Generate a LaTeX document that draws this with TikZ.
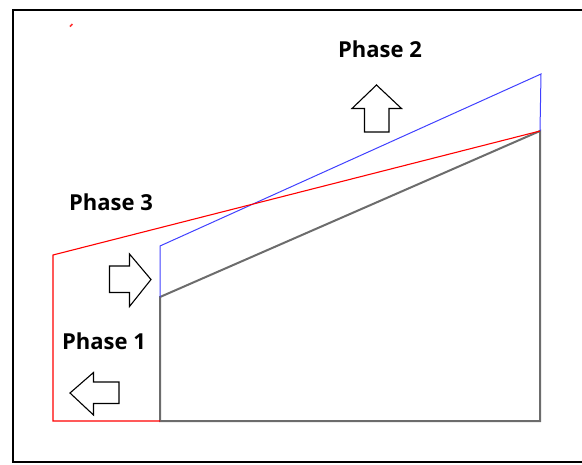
\documentclass[tikz,border=0pt]{standalone}
\usepackage{fontspec}
\setmainfont{Open Sans}
\begin{document}
\begin{tikzpicture}[x=1pt,y=-1pt,
  frame/.style={draw=black,line width=2.2pt},
  wall/.style={draw=gray!85!black,line width=2pt},
  redline/.style={draw=red,line width=1.1pt},
  blueline/.style={draw=blue!75!white,line width=1pt},
  bigarrow/.style={draw=black,line width=1.1pt,fill=white,line join=miter},
  label/.style={font=\bfseries\fontsize{22}{26}\selectfont,inner sep=0pt,anchor=center}]
\useasboundingbox (0,0) rectangle (582,464);
% outer frame: top, left and bottom edges only
\draw[frame] (582,10) -- (13,10) -- (13,462) -- (582,462);
% original profile (grey)
\coordinate (g1) at (160,297);
\coordinate (g2) at (540,131);
\coordinate (g3) at (540,421);
\coordinate (g4) at (160,421);
\draw[wall] (g1) -- (g2) -- (g3) -- (g4) -- cycle;
% phase 2 profile (blue)
\coordinate (b1) at (160,246);
\coordinate (b2) at (541,74);
\draw[blueline] (g1) -- (b1) -- (b2) -- (g2);
% phase 3 profile (red)
\coordinate (r1) at (53,421);
\coordinate (r2) at (53,255);
\draw[redline] (g4) -- (r1) -- (r2) -- (g2);
% small red speck
\draw[red!80,line width=1.5pt] (70,26.5) -- (72.5,24);
% labels
\node[label] (p2) at (380,49) {Phase 2};
\node[label] (p3) at (111,202) {Phase 3};
\node[label] (p1) at (104,341) {Phase 1};
% block arrows
\draw[bigarrow] (376.5,85) -- (401.5,108.5) -- (389,108.5) -- (389,132) -- (364.5,132) -- (364.5,108.5) -- (352,108.5) -- cycle;
\draw[bigarrow] (151,279.5) -- (129.5,254) -- (129.5,266) -- (109.5,266) -- (109.5,292.5) -- (129.5,292.5) -- (129.5,306.5) -- cycle;
\draw[bigarrow] (70,393) -- (93.5,372.5) -- (93.5,382) -- (119,382) -- (119,403.5) -- (93.5,403.5) -- (93.5,415) -- cycle;
\end{tikzpicture}
\end{document}
